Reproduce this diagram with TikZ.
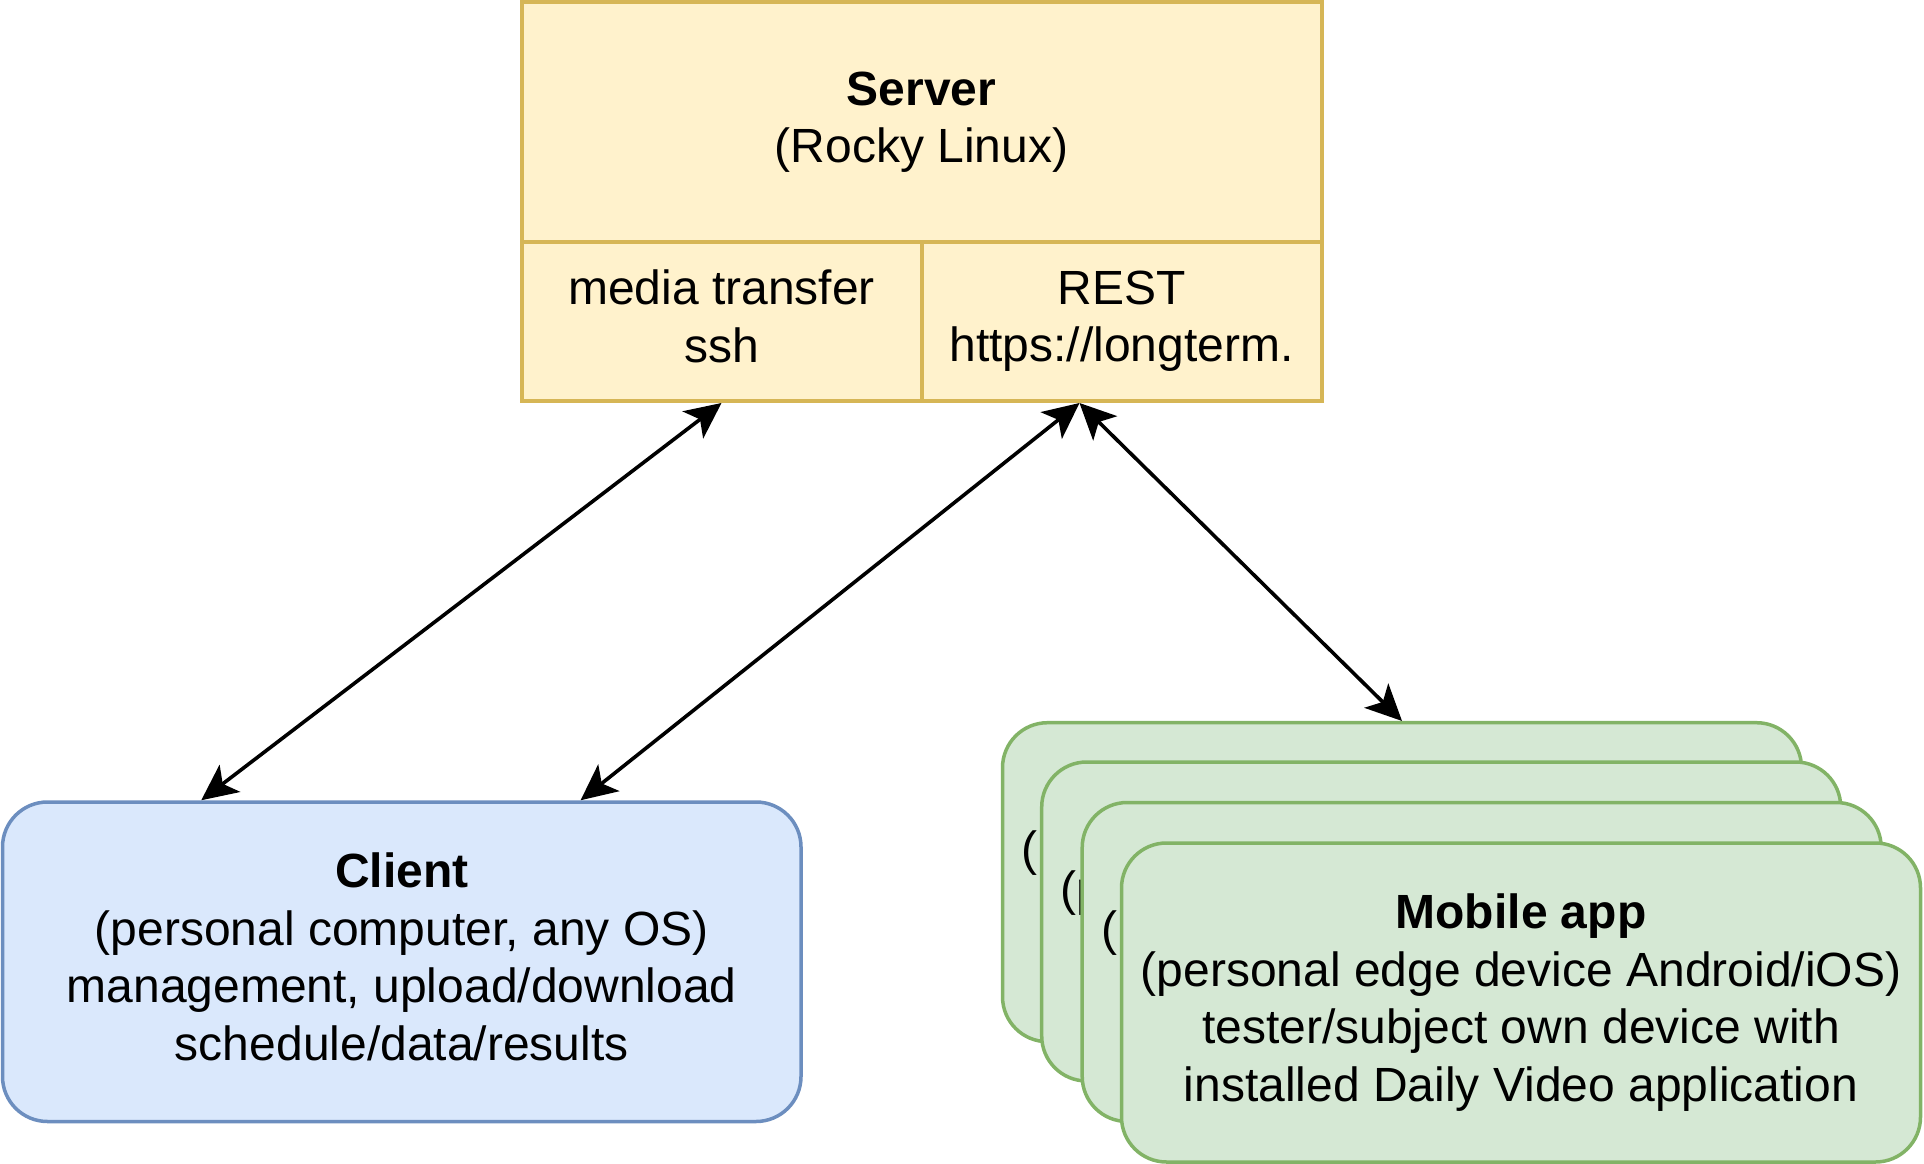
\documentclass[tikz,border=0pt]{standalone}
\usepackage{fontspec}
\setmainfont{Liberation Sans}
\usetikzlibrary{arrows.meta,calc}
\definecolor{srvfill}{HTML}{FFF2CC}
\definecolor{srvline}{HTML}{D6B656}
\definecolor{clifill}{HTML}{DAE8FC}
\definecolor{cliline}{HTML}{6C8EBF}
\definecolor{mobfill}{HTML}{D5E8D4}
\definecolor{mobline}{HTML}{82B366}
\tikzset{
  txt/.style={font=\fontsize{48}{57.6}\selectfont, align=center, text=black, execute at end node={\vphantom{(g}}},
  srvbox/.style={txt, draw=srvline, fill=srvfill, line width=4pt, rectangle, inner sep=0pt, minimum width=#1, minimum height=0pt},
  clibox/.style={txt, draw=cliline, fill=clifill, line width=3.5pt, rounded corners=45pt, inner sep=0pt, minimum width=798.5pt, minimum height=319.5pt},
  mobbox/.style={txt, draw=mobline, fill=mobfill, line width=3.5pt, rounded corners=45pt, inner sep=0pt, minimum width=799pt, minimum height=319pt},
  tip/.tip={Stealth[length=36pt,width=34pt,inset=9pt]},
  link/.style={line width=3.6pt, black, tip-tip}
}
\begin{document}
\begin{tikzpicture}[x=1pt,y=-1pt]
\useasboundingbox (0,0) rectangle (1924,1164);
% Server
\node[srvbox=800pt, minimum height=239.2pt] (srvtop) at (921.5,122.1) {\textbf{Server}\\(Rocky Linux)};
\node[srvbox=400pt, minimum height=159.3pt] (srvssh) at (721.5,321.35) {media transfer\\ssh};
\node[srvbox=400pt, minimum height=159.3pt] (srvrest) at (1121.5,321.35) {REST\\https://longterm.};
% Client
\node[clibox] (client) at (401.75,961.75) {\textbf{Client}\\(personal computer, any OS)\\management, upload/download\\schedule/data/results};
% Mobile cards
\foreach \i/\x/\y in {1/1402/882.2, 2/1441.2/921.5, 3/1481.7/962, 4/1521/1002.5}{
  \node[mobbox] (mob\i) at (\x,\y) {\textbf{Mobile app}\\(personal edge device Android/iOS)\\tester/subject own device with\\installed Daily Video application};
}
% connector end points
\coordinate (cliA) at ($(client.north west)!0.25!(client.north east)$);
\coordinate (cliB) at ($(client.north west)!0.723!(client.north east)$);
\coordinate (restA) at ($(srvrest.south west)!0.396!(srvrest.south east)$);
\draw[link] (srvssh.south) -- (cliA);
\draw[link] (restA) -- (cliB);
\draw[link] (restA) -- (mob1.north);
\end{tikzpicture}
\end{document}
